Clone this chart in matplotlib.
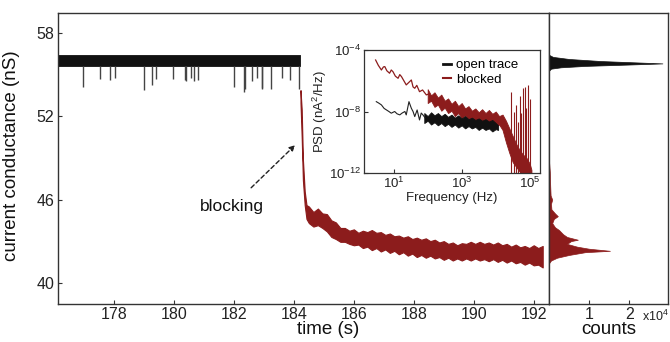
import numpy as np
import matplotlib
matplotlib.use("Agg")
import matplotlib.pyplot as plt
from matplotlib.lines import Line2D

plt.rcParams['font.family'] = ['Liberation Sans', 'DejaVu Sans']
plt.rcParams['mathtext.fontset'] = 'custom'
plt.rcParams['mathtext.rm'] = 'Liberation Sans'
plt.rcParams['mathtext.it'] = 'Liberation Sans:italic'
plt.rcParams['mathtext.bf'] = 'Liberation Sans:bold'

RED = '#8c1c1c'
BLK = '#111111'
SPINE = '#333333'

# ---------------- data: main trace ----------------
open_t_start, open_t_end = 176.14, 184.20
open_band_upper, open_band_lower = 56.43, 55.66
spike_times = [176.96, 177.52, 177.88, 178.02, 179.00, 179.28, 179.39, 179.97,
               180.36, 180.41, 180.58, 180.66, 180.80, 181.99, 182.33, 182.36,
               182.61, 182.77, 182.92, 182.95, 183.25, 183.60, 183.88, 184.16]
spike_depths = [54.10, 54.68, 54.63, 54.75, 53.90, 54.30, 54.70, 54.68,
                54.63, 54.58, 54.75, 54.56, 54.63, 54.15, 53.78, 53.95,
                54.56, 54.75, 54.07, 54.00, 53.95, 54.75, 54.63, 54.00]

blocked_t = [184.22, 184.26, 184.30, 184.36, 184.42,
             184.50, 184.65, 184.80, 184.95, 185.10, 185.25, 185.40, 185.55, 185.70, 185.85,
             186.00, 186.15, 186.30, 186.45, 186.60, 186.75, 186.90, 187.05, 187.20, 187.35,
             187.50, 187.65, 187.80, 187.95, 188.10, 188.25, 188.40, 188.55, 188.70, 188.85,
             189.00, 189.15, 189.30, 189.45, 189.60, 189.75, 189.90, 190.05, 190.20, 190.35,
             190.50, 190.65, 190.80, 190.95, 191.10, 191.25, 191.40, 191.55, 191.70, 191.85,
             192.00, 192.15, 192.30]
blocked_upper = [53.9, 52.5, 48.9, 46.6, 45.6,
                 45.5, 45.1, 45.35, 45.0, 44.95, 44.5, 44.35, 43.95, 43.95, 43.75,
                 43.85, 43.6, 43.75, 43.65, 43.8, 43.6, 43.65, 43.45, 43.55, 43.35,
                 43.4, 43.25, 43.35, 43.15, 43.25, 43.1, 43.2, 43.0, 43.1, 42.9,
                 43.0, 42.8, 42.9, 42.7, 42.85, 42.8, 42.95, 42.8, 42.95, 42.8,
                 42.9, 42.75, 42.9, 42.7, 42.8, 42.6, 42.75, 42.55, 42.65, 42.5,
                 42.7, 42.5, 42.65]
blocked_lower = [53.0, 50.5, 47.4, 45.6, 44.6,
                 44.3, 44.05, 44.15, 43.95, 43.7, 43.3, 43.15, 42.95, 42.95, 42.8,
                 42.7, 42.75, 42.5, 42.6, 42.35, 42.5, 42.25, 42.4, 42.15, 42.3,
                 42.05, 42.2, 41.95, 42.1, 41.85, 42.0, 41.8, 41.95, 41.75, 41.85,
                 41.65, 41.8, 41.6, 41.75, 41.6, 41.75, 41.6, 41.75, 41.6, 41.7,
                 41.55, 41.7, 41.5, 41.65, 41.45, 41.6, 41.4, 41.5, 41.3, 41.45,
                 41.25, 41.3, 41.1]

time_ticks = [178, 180, 182, 184, 186, 188, 190, 192]
cond_ticks = [40, 46, 52, 58]

# ---------------- data: histogram (counts in units of 1e4) ----------------
hist_open_g = [56.45, 56.30, 56.15, 56.00, 55.90, 55.83, 55.75, 55.65, 55.55, 55.45, 55.30]
hist_open_c = [0.00, 0.10, 0.50, 1.30, 2.20, 2.83, 2.00, 0.90, 0.30, 0.05, 0.00]
hist_block_g = [48.8, 48.0, 47.0, 46.3, 46.0, 45.7, 45.3, 45.0, 44.8, 44.6, 44.3, 44.0,
                43.8, 43.5, 43.3, 43.1, 43.0, 42.8, 42.6, 42.45, 42.3, 42.2, 42.0, 41.8,
                41.6, 41.4]
hist_block_c = [0.00, 0.02, 0.03, 0.04, 0.08, 0.05, 0.06, 0.15, 0.22, 0.12, 0.08, 0.15,
                0.25, 0.35, 0.45, 0.72, 0.55, 0.45, 0.70, 1.00, 1.52, 0.90, 0.50, 0.20,
                0.05, 0.00]
count_ticks = [1, 2]

# ---------------- data: PSD inset (log10 f, log10 PSD) ----------------
psd_block_line_lf = [0.47, 0.55, 0.64, 0.70, 0.74, 0.80, 0.88, 0.93, 0.98, 1.05, 1.13, 1.18,
                     1.23, 1.30, 1.37, 1.45, 1.52, 1.57, 1.62, 1.68, 1.76, 1.85, 1.96, 2.05]
psd_block_line_lp = [-4.65, -5.00, -5.30, -5.10, -5.08, -5.35, -5.51, -5.30, -5.41, -5.70, -5.84, -5.60,
                     -5.73, -6.00, -6.27, -6.10, -5.95, -6.40, -6.49, -6.30, -6.71, -6.60, -6.92, -6.85]
psd_block_band_lf = [2.0, 2.1, 2.2, 2.3, 2.4, 2.5, 2.6, 2.7, 2.8, 2.9, 3.0, 3.1, 3.2, 3.3, 3.4, 3.5,
                     3.6, 3.7, 3.8, 3.9, 4.0, 4.1, 4.2, 4.3, 4.4, 4.5, 4.6, 4.7, 4.8, 4.9, 5.0, 5.05]
psd_block_band_up = [-6.55, -6.95, -6.75, -7.1, -6.9, -7.3, -7.15, -7.5, -7.3, -7.65, -7.45, -7.8,
                     -7.65, -7.95, -7.8, -8.05, -7.85, -8.1, -7.9, -8.15, -8.0, -8.3, -8.2, -8.6,
                     -9.1, -9.6, -10.1, -10.5, -10.8, -11.0, -11.4, -11.8]
psd_block_band_lo = [-7.45, -7.3, -7.7, -7.55, -7.95, -7.75, -8.1, -7.95, -8.3, -8.1, -8.45, -8.25,
                     -8.55, -8.4, -8.65, -8.5, -8.75, -8.6, -8.85, -8.7, -8.95, -8.85, -9.2, -10.0,
                     -10.7, -11.3, -11.6, -11.9, -12.0, -12.0, -12.0, -12.0]
psd_block_spike_lf = [4.46, 4.55, 4.60, 4.65, 4.70, 4.75, 4.80, 4.87, 4.90, 4.95, 5.00]
psd_block_spike_lp = [-6.7, -8.0, -7.6, -8.7, -7.0, -8.1, -6.5, -6.4, -7.8, -6.27, -7.2]

psd_open_line_lf = [0.49, 0.56, 0.64, 0.72, 0.79, 0.86, 0.93, 1.03, 1.10, 1.18, 1.25, 1.33,
                    1.37, 1.45, 1.52, 1.57, 1.62, 1.69, 1.76, 1.81, 1.86, 1.92]
psd_open_line_lp = [-7.36, -7.45, -7.57, -7.80, -7.90, -8.00, -8.11, -8.00, -8.15, -8.22, -8.10, -8.00,
                    -8.22, -7.36, -7.79, -8.00, -8.33, -7.90, -8.55, -8.10, -8.22, -8.40]
psd_open_band_lf = [1.9, 2.0, 2.1, 2.2, 2.3, 2.4, 2.5, 2.6, 2.7, 2.8, 2.9, 3.0, 3.1, 3.2, 3.3,
                    3.4, 3.5, 3.6, 3.7, 3.8, 3.9, 4.0, 4.07]
psd_open_band_up = [-8.1, -8.3, -8.05, -8.25, -8.1, -8.3, -8.15, -8.35, -8.2, -8.4, -8.25, -8.45,
                    -8.3, -8.5, -8.4, -8.55, -8.45, -8.6, -8.5, -8.65, -8.55, -8.75, -8.9]
psd_open_band_lo = [-8.75, -8.6, -8.85, -8.7, -8.9, -8.75, -8.95, -8.8, -9.0, -8.85, -9.05, -8.9,
                    -9.1, -8.95, -9.1, -9.0, -9.2, -9.05, -9.2, -9.1, -9.3, -9.15, -9.2]

# ---------------- figure ----------------
W, H = 670, 342
fig = plt.figure(figsize=(W / 100, H / 100), dpi=100)


def fx(px):
    return px / W


def fy(py):
    return 1 - py / H


ax = fig.add_axes([fx(58.3), fy(304), fx(549) - fx(58.3), fy(13) - fy(304)])
axh = fig.add_axes([fx(549), fy(304), fx(668) - fx(549), fy(13) - fy(304)], sharey=ax)
axi = fig.add_axes([fx(363.5), fy(173), fx(540) - fx(363.5), fy(50) - fy(173)])

# main trace
ax.fill_between([open_t_start, open_t_end], open_band_lower, open_band_upper,
                color=BLK, lw=0.6, edgecolor=BLK)
ax.vlines(spike_times, spike_depths, open_band_lower, color='#444444', lw=1.0)
ax.fill_between(blocked_t, blocked_lower, blocked_upper, color=RED, lw=0.8, edgecolor=RED)

ax.set_xlim(176.14, 192.51)
ax.set_ylim(38.46, 59.47)
ax.set_xticks(time_ticks)
ax.set_yticks(cond_ticks)
ax.tick_params(direction='in', length=3, width=0.8, labelsize=11.5, colors=SPINE,
               labelcolor='#222222', pad=3)
ax.tick_params(axis='x', pad=2.5)
ax.set_xlabel('time (s)', fontsize=13.5, color='#111111')
ax.xaxis.set_label_coords((328 - 58.3) / (549 - 58.3), -(321 - 304) / 291)
ax.set_ylabel('current conductance (nS)', fontsize=13.5, color='#111111')
ax.yaxis.set_label_coords(-0.078, 0.51)
for s in ax.spines.values():
    s.set_color(SPINE)
    s.set_linewidth(1.0)

ax.annotate('blocking', xy=(184.04, 49.93), xytext=(181.92, 45.48),
            ha='center', va='center', fontsize=12.5, color='#111111',
            arrowprops=dict(arrowstyle='-|>', linestyle=(0, (3, 2)), color='#222222',
                            lw=1.0, shrinkA=9, shrinkB=0, mutation_scale=8))

# histogram
axh.fill_betweenx(hist_open_g, 0, hist_open_c, color=BLK, lw=0.5)
axh.fill_betweenx(hist_block_g, 0, hist_block_c, color=RED, lw=0.5)
axh.set_xlim(0, 2.97)
axh.set_xticks(count_ticks)
axh.tick_params(axis='y', left=False, labelleft=False)
axh.tick_params(axis='x', direction='in', length=3, width=0.8, labelsize=11.5, colors=SPINE,
                labelcolor='#222222', pad=2.5)
axh.set_xlabel('counts', fontsize=13.5, color='#111111')
axh.xaxis.set_label_coords((609 - 549) / (668 - 549), -(321 - 304) / 291)
fig.text(fx(669), fy(316), 'x10$^4$', fontsize=9, ha='right', va='center', color='#222222')
for s in axh.spines.values():
    s.set_color(SPINE)
    s.set_linewidth(1.0)

# inset PSD
f = lambda arr: 10.0 ** np.asarray(arr)
axi.fill_between(f(psd_block_band_lf), f(psd_block_band_lo), f(psd_block_band_up),
                 color=RED, lw=0.6, edgecolor=RED)
axi.plot(f(psd_block_line_lf), f(psd_block_line_lp), color=RED, lw=0.9)
axi.vlines(f(psd_block_spike_lf), 1e-12, f(psd_block_spike_lp), color=RED, lw=0.8)
axi.fill_between(f(psd_open_band_lf), f(psd_open_band_lo), f(psd_open_band_up),
                 color=BLK, lw=0.6, edgecolor=BLK)
axi.plot(f(psd_open_line_lf), f(psd_open_line_lp), color='#222222', lw=0.8)
axi.set_xscale('log')
axi.set_yscale('log')
axi.set_xlim(1.3, 2e5)
axi.set_ylim(1e-12, 1e-4)
axi.set_xticks([1e1, 1e3, 1e5])
axi.set_yticks([1e-12, 1e-8, 1e-4])
axi.yaxis.set_minor_locator(matplotlib.ticker.NullLocator())
axi.tick_params(which='both', direction='in', labelsize=9.5, colors=SPINE, labelcolor='#222222', pad=2)
axi.tick_params(which='major', length=3)
axi.tick_params(which='minor', length=1.5)
axi.set_xlabel('Frequency (Hz)', fontsize=9.5, color='#222222', labelpad=1)
axi.set_ylabel('PSD (nA$^2$/Hz)', fontsize=9.5, color='#222222', labelpad=0)
for s in axi.spines.values():
    s.set_color(SPINE)
    s.set_linewidth(0.9)

handles = [Line2D([], [], color=BLK, lw=2), Line2D([], [], color=RED, lw=1.5)]
axi.legend(handles, ['open trace', 'blocked'], loc='upper right', frameon=False,
           fontsize=9.5, handlelength=0.6, handletextpad=0.4, labelspacing=0.15,
           borderaxespad=0.3, bbox_to_anchor=(0.93, 1.0))

fig.savefig('out.png', dpi=100)
